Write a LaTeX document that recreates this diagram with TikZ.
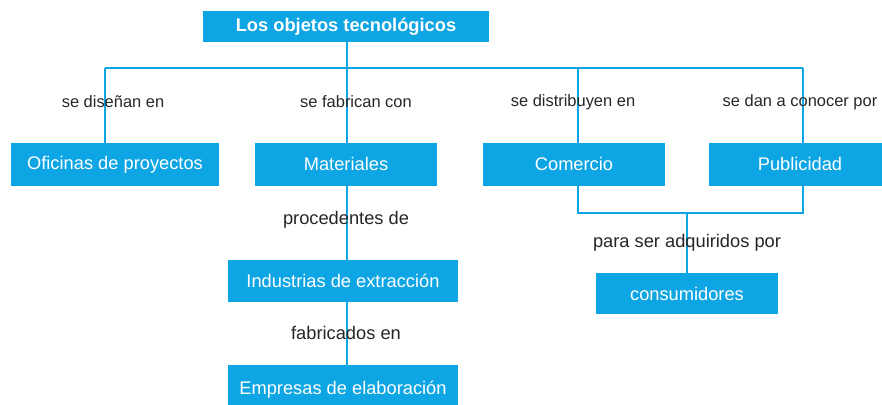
\documentclass[tikz,border=0pt]{standalone}
\usepackage{fontspec}
\setmainfont{Liberation Sans}
\definecolor{mapcyan}{RGB}{14, 165, 228}
\usetikzlibrary{positioning, calc}
\tikzset{
  mapbox/.style={fill=mapcyan, text=white, minimum width=4.55cm, minimum height=1.075cm, inner sep=0pt, font=\fontsize{13}{15}\selectfont},
  maplabel/.style={text=black!85, inner sep=0pt, font=\fontsize{13}{15}\selectfont},
  toplabel/.style={maplabel, font=\fontsize{11.7}{14}\selectfont},
  link/.style={draw=mapcyan, line width=0.9pt}
}

\begin{document}
\begin{tikzpicture}
  \useasboundingbox (0,0) rectangle (22.05,-10.1);

  % Title
  \node[mapbox, minimum width=7.15cm, minimum height=0.78cm, font=\fontsize{13}{15}\selectfont\bfseries] (title) at (8.65,-0.66) {Los objetos tecnológicos};

  % First row
  \node[mapbox, minimum width=5.2cm] (oficinas) at (2.875,-4.11) {Oficinas de proyectos};
  \node[mapbox] (materiales) at (8.65,-4.11) {Materiales};
  \node[mapbox] (comercio) at (14.35,-4.11) {Comercio};
  \node[mapbox] (publicidad) at (20.0,-4.11) {Publicidad};

  % Chain below Materiales
  \node[mapbox, minimum width=5.75cm, minimum height=1.05cm] (industrias) at (8.575,-7.025) {Industrias de extracción};
  \node[mapbox, minimum width=5.75cm, minimum height=1.25cm] (empresas) at (8.575,-9.75) {Empresas de elaboración};

  % Buyers
  \node[mapbox, minimum height=1.025cm] (consumidores) at (17.175,-7.34) {consumidores};

  % Bus under the title
  \coordinate (busL) at (2.625,-1.7);
  \coordinate (busM) at (8.675,-1.7);
  \coordinate (busC) at (14.45,-1.7);
  \coordinate (busR) at (20.075,-1.7);
  \draw[link] (title.south -| busM) -- (busM);
  \draw[link] (busL) -- (busR);
  \draw[link] (busL) -- (busL |- oficinas.north);
  \draw[link] (busM) -- (busM |- materiales.north);
  \draw[link] (busC) -- (busC |- comercio.north);
  \draw[link] (busR) -- (busR |- publicidad.north);

  % Materiales chain
  \draw[link] (materiales.south -| busM) -- (industrias.north -| busM);
  \draw[link] (industrias.south -| busM) -- (empresas.north -| busM);

  % Comercio and Publicidad join
  \coordinate (joinL) at (14.45,-5.325);
  \coordinate (joinR) at (20.075,-5.325);
  \draw[link] (comercio.south -| joinL) -- (joinL) -- (joinR) -- (publicidad.south -| joinR);
  \draw[link] (joinL -| consumidores) -- (consumidores.north);

  % Labels
  \node[toplabel] (disenan) at (2.825,-2.55) {se diseñan en};
  \node[toplabel] (fabrican) at (8.9,-2.55) {se fabrican con};
  \node[toplabel] (distribuyen) at (14.325,-2.55) {se distribuyen en};
  \node[toplabel] (conocer) at (20.0,-2.55) {se dan a conocer por};
  \node[maplabel] (procedentes) at (8.65,-5.5) {procedentes de};
  \node[maplabel] (fabricados) at (8.65,-8.325) {fabricados en};
  \node[maplabel] (adquiridos) at (17.175,-6.075) {para ser adquiridos por};
\end{tikzpicture}
\end{document}
